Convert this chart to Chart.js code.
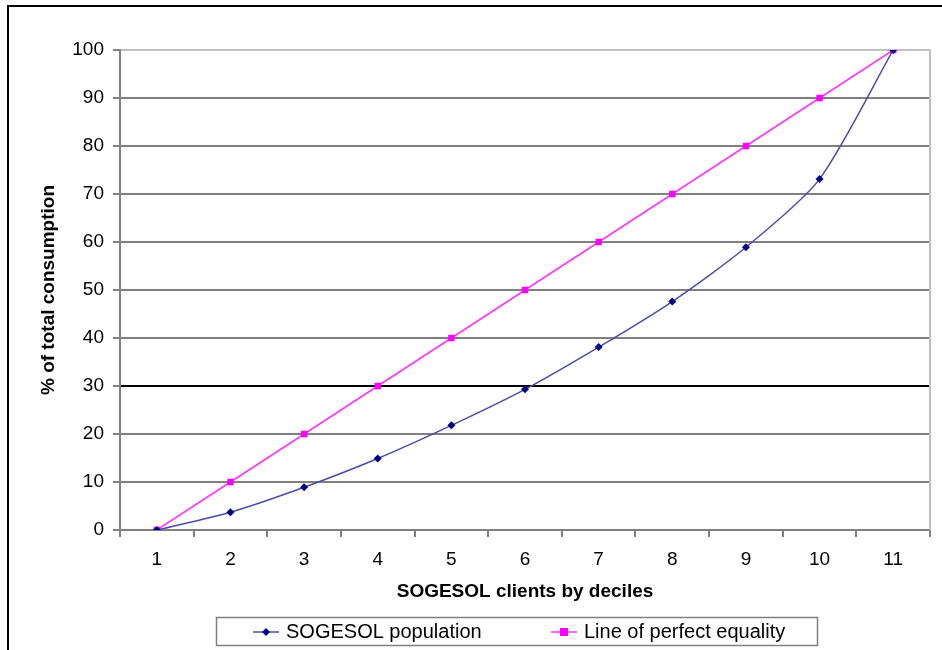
<!DOCTYPE html>
<html>
<head>
<meta charset="utf-8">
<script src="https://cdn.jsdelivr.net/npm/chart.js@4"></script>
<style>
  html, body { margin: 0; padding: 0; background: #fff; overflow: hidden; }
  #wrap { width: 942px; height: 650px; }
</style>
</head>
<body>
<div id="wrap"><canvas id="gini" width="942" height="650"></canvas></div>
<script>
// ===== DATA =====
const deciles = ["1", "2", "3", "4", "5", "6", "7", "8", "9", "10", "11"];
const sogesolPop = [0, 3.7, 8.9, 14.9, 21.8, 29.3, 38.1, 47.6, 58.9, 73.1, 100];
const perfectEquality = [0, 10, 20, 30, 40, 50, 60, 70, 80, 90, 100];
const yTicks = [0, 10, 20, 30, 40, 50, 60, 70, 80, 90, 100];

const FONT = "'Liberation Sans', Arial, sans-serif";

// ===== FRAME + LEGEND (excel style) =====
const excelFrame = {
  id: "excelFrame",
  beforeDraw(chart) {
    const ctx = chart.ctx;
    ctx.save();
    ctx.strokeStyle = "#000";
    ctx.lineWidth = 2;
    ctx.strokeRect(8, 6, 960, 680);
    ctx.restore();
  },
  afterDraw(chart) {
    const ctx = chart.ctx;
    const a = chart.chartArea;
    ctx.save();
    // right edge of plot area
    ctx.strokeStyle = "#c0c0c0";
    ctx.lineWidth = 2;
    ctx.beginPath();
    ctx.moveTo(a.right, a.top);
    ctx.lineTo(a.right, a.bottom);
    ctx.stroke();

    // legend box
    ctx.strokeStyle = "#808080";
    ctx.lineWidth = 1.5;
    ctx.strokeRect(216.5, 617.5, 601, 28);

    const items = [
      { x: 253, ds: chart.data.datasets[0] },
      { x: 551, ds: chart.data.datasets[1] }
    ];
    const ly = 632;
    items.forEach((it) => {
      ctx.strokeStyle = it.ds.borderColor;
      ctx.lineWidth = 1.5;
      ctx.beginPath();
      ctx.moveTo(it.x, ly);
      ctx.lineTo(it.x + 26, ly);
      ctx.stroke();
      const mx = it.x + 13;
      ctx.fillStyle = it.ds.pointBackgroundColor;
      if (it.ds.pointStyle === "rectRot") {
        ctx.beginPath();
        ctx.moveTo(mx, ly - 4);
        ctx.lineTo(mx + 4, ly);
        ctx.lineTo(mx, ly + 4);
        ctx.lineTo(mx - 4, ly);
        ctx.closePath();
        ctx.fill();
      } else {
        ctx.fillRect(mx - 4, ly - 4, 8, 8);
      }
      ctx.fillStyle = "#000";
      ctx.font = "20px " + FONT;
      ctx.textBaseline = "middle";
      ctx.fillText(it.ds.label, it.x + 33, ly);
    });
    ctx.restore();
  }
};

function gridColor(c) {
  const v = c.tick ? c.tick.value : null;
  if (v === 30) return "#000";
  if (v === 100) return "#c0c0c0";
  return "#808080";
}

new Chart(document.getElementById("gini"), {
  type: "line",
  data: {
    labels: deciles,
    datasets: [
      {
        label: "SOGESOL population",
        data: sogesolPop,
        borderColor: "#4b4bb0",
        borderWidth: 1.5,
        pointStyle: "rectRot",
        pointRadius: 4,
        pointBackgroundColor: "#000080",
        pointBorderColor: "#000080",
        pointBorderWidth: 0,
        tension: 0.25,
        fill: false
      },
      {
        label: "Line of perfect equality",
        data: perfectEquality,
        borderColor: "#ff33ff",
        borderWidth: 1.5,
        pointStyle: "rect",
        pointRadius: 4.5,
        pointBackgroundColor: "#ff00ff",
        pointBorderColor: "#ff00ff",
        pointBorderWidth: 0,
        tension: 0,
        fill: false
      }
    ]
  },
  options: {
    responsive: false,
    animation: false,
    layout: { padding: { left: 33, right: 12, top: 50, bottom: 43 } },
    plugins: {
      legend: { display: false },
      tooltip: { enabled: false }
    },
    scales: {
      x: {
        offset: true,
        grid: {
          offset: true,
          drawOnChartArea: false,
          drawTicks: true,
          tickLength: 7,
          color: "#808080",
          lineWidth: 2
        },
        border: { color: "#808080", width: 2 },
        ticks: {
          color: "#000",
          font: { family: FONT, size: 19 },
          padding: 11,
          maxRotation: 0
        },
        title: {
          display: true,
          text: "SOGESOL clients by deciles",
          color: "#000",
          font: { family: FONT, size: 19, weight: "bold" },
          padding: { top: 4, bottom: 4 }
        },
        afterFit(scale) { scale.height = 77; }
      },
      y: {
        min: 0,
        max: 100,
        afterBuildTicks(scale) { scale.ticks = yTicks.map((v) => ({ value: v })); },
        grid: {
          color: gridColor,
          tickColor: "#808080",
          lineWidth: 2,
          drawTicks: true,
          tickLength: 7,
        },
        border: { color: "#808080", width: 2 },
        ticks: {
          color: "#000",
          font: { family: FONT, size: 19 },
          padding: 9
        },
        title: {
          display: true,
          text: "% of total consumption",
          color: "#000",
          font: { family: FONT, size: 19, weight: "bold" },
          padding: { top: 4, bottom: 4 }
        },
        afterFit(scale) { scale.width = 87; }
      }
    }
  },
  plugins: [excelFrame]
});
</script>
</body>
</html>
